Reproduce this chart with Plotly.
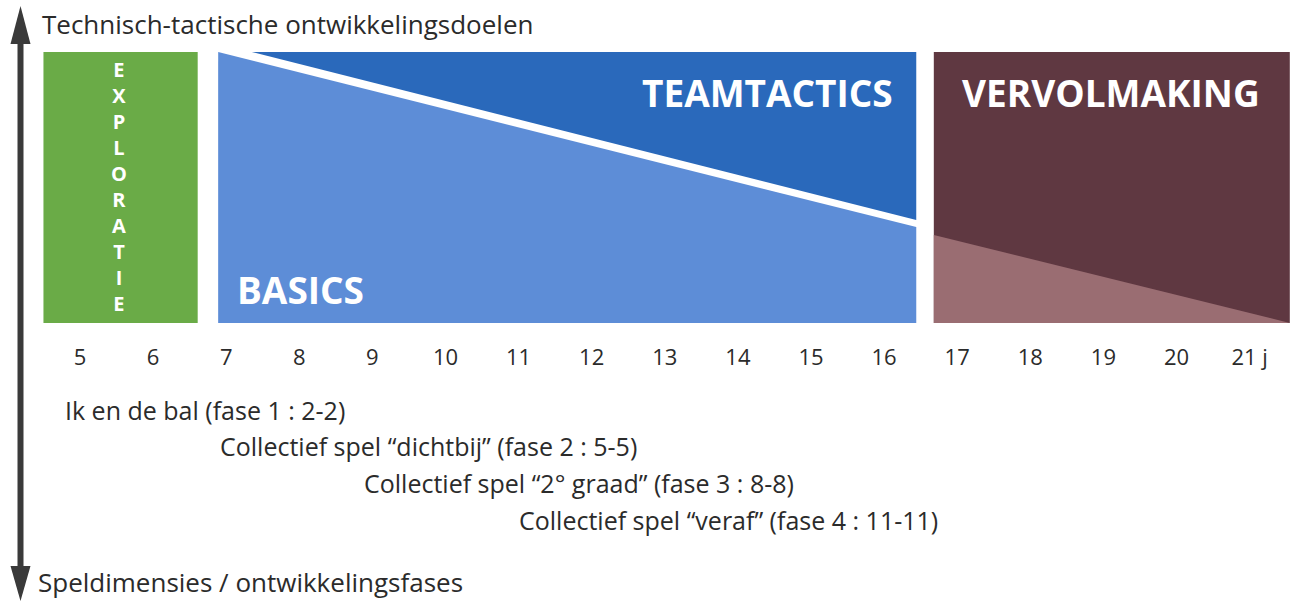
import plotly.graph_objects as go

# ---------------- data ----------------
ages = list(range(5, 22))
age_labels = [str(a) for a in ages[:-1]] + ["21 j"]

block_names = ["EXPLORATIE", "BASICS", "TEAMTACTICS", "VERVOLMAKING"]
# age spans of the coloured blocks
explo_span = [4.5, 6.61]
basic_span = [6.89, 16.44]
team_start = 7.35
verv_span = [16.68, 21.55]
# relative level (0 = bottom of block, 1 = top) of diagonal edges
basics_top = [1.0, 0.354]       # at start / end of basics block
team_bottom_end = 0.380         # teamtactics lower edge at end of block
verv_light_top = [0.325, 0.0]   # light maroon triangle top edge

phase_texts = [
    "Ik en de bal (fase 1 : 2-2)",
    "Collectief spel “dichtbij” (fase 2 : 5-5)",
    "Collectief spel “2° graad” (fase 3 : 8-8)",
    "Collectief spel “veraf” (fase 4 : 11-11)",
]
phase_start_ages = [4.77, 6.89, 8.86, 10.98]

top_title = "Technisch-tactische ontwikkelingsdoelen"
bottom_title = "Speldimensies / ontwikkelingsfases"

# ---------------- layout helpers ----------------
W, H = 1292, 603
PX5, PXY = 80.0, 73.1       # pixel of age 5, pixels per year
TOP, BOT = 52.0, 323.0      # pixel rows of block top/bottom

def px2x(px):
    return 5 + (px - PX5) / PXY

def py2y(py):
    return 1 - (py - TOP) / (BOT - TOP)

FONT = "Open Sans"
C_GREEN = "#6aab47"
C_LBLUE = "#5d8dd7"
C_DBLUE = "#2a69bb"
C_DMAR = "#5f3841"
C_LMAR = "#9a6d72"
C_TEXT = "#2b2b2b"

fig = go.Figure()

def poly(xs, ys, color):
    fig.add_trace(go.Scatter(x=xs + [xs[0]], y=ys + [ys[0]], mode="lines",
                             fill="toself", fillcolor=color,
                             line=dict(width=0, color=color),
                             hoverinfo="skip", showlegend=False))

# exploratie
poly([explo_span[0], explo_span[1], explo_span[1], explo_span[0]], [0, 0, 1, 1], C_GREEN)
# basics (light blue, sloped top)
poly([basic_span[0], basic_span[1], basic_span[1], basic_span[0]],
     [0, 0, basics_top[1], basics_top[0]], C_LBLUE)
# teamtactics (dark blue triangle)
poly([team_start, basic_span[1], basic_span[1]], [1, 1, team_bottom_end], C_DBLUE)
# vervolmaking
poly([verv_span[0], verv_span[1], verv_span[1], verv_span[0]], [0, 0, 1, 1], C_DMAR)
poly([verv_span[0], verv_span[1], verv_span[0]], [verv_light_top[0], verv_light_top[1], 0], C_LMAR)

# block labels
fig.add_annotation(x=px2x(119), y=py2y(186), text="<br>".join(list(block_names[0])),
                   showarrow=False, yanchor="middle", align="center",
                   font=dict(family=FONT, size=20, color="white", weight="bold"))
BIG = 37
fig.add_annotation(x=px2x(300), y=py2y(289), text=block_names[1], showarrow=False,
                   font=dict(family=FONT, size=BIG, color="white", weight="bold"))
fig.add_annotation(x=px2x(767), y=py2y(92), text=block_names[2], showarrow=False,
                   font=dict(family=FONT, size=BIG, color="white", weight="bold"))
fig.add_annotation(x=px2x(1111), y=py2y(92), text=block_names[3], showarrow=False,
                   font=dict(family=FONT, size=BIG, color="white", weight="bold"))

# phase texts
phase_rows = [410, 446, 483, 520]
for t, a, r in zip(phase_texts, phase_start_ages, phase_rows):
    fig.add_annotation(x=a, y=py2y(r), text=t, showarrow=False, xanchor="left", yanchor="middle",
                       font=dict(family=FONT, size=25, color=C_TEXT))

# titles
fig.add_annotation(x=40 / W, y=1 - 24 / H, xref="paper", yref="paper", text=top_title,
                   showarrow=False, xanchor="left", yanchor="middle",
                   font=dict(family=FONT, size=26, color=C_TEXT))
fig.add_annotation(x=36 / W, y=1 - 582 / H, xref="paper", yref="paper", text=bottom_title,
                   showarrow=False, xanchor="left", yanchor="middle",
                   font=dict(family=FONT, size=26, color=C_TEXT))

# double arrow
AC = "#3a3a3a"
ax = 20.5
fig.add_shape(type="line", xref="paper", yref="paper", x0=ax / W, x1=ax / W,
              y0=1 - 40 / H, y1=1 - 570 / H, line=dict(color=AC, width=6))
fig.add_shape(type="path", xref="paper", yref="paper",
              path=f"M {ax/W} {1-6/H} L {(ax-10)/W} {1-44/H} L {(ax+10)/W} {1-44/H} Z",
              fillcolor=AC, line=dict(width=0))
fig.add_shape(type="path", xref="paper", yref="paper",
              path=f"M {ax/W} {1-601/H} L {(ax-10)/W} {1-566/H} L {(ax+10)/W} {1-566/H} Z",
              fillcolor=AC, line=dict(width=0))

fig.update_layout(
    width=W, height=H, margin=dict(l=0, r=0, t=0, b=0),
    paper_bgcolor="white", plot_bgcolor="white",
    xaxis=dict(range=[px2x(0), px2x(W)], tickvals=ages, ticktext=age_labels,
               showgrid=False, zeroline=False, showline=False, ticks="",
               anchor="free", position=1 - 342 / H, side="bottom",
               tickfont=dict(family=FONT, size=22, color=C_TEXT), fixedrange=True),
    yaxis=dict(range=[py2y(H), py2y(0)], visible=False, fixedrange=True),
    showlegend=False,
)

fig.write_html("out.html", config={"displayModeBar": False},
               post_script="document.body.style.margin='0';document.body.style.overflow='hidden';")
